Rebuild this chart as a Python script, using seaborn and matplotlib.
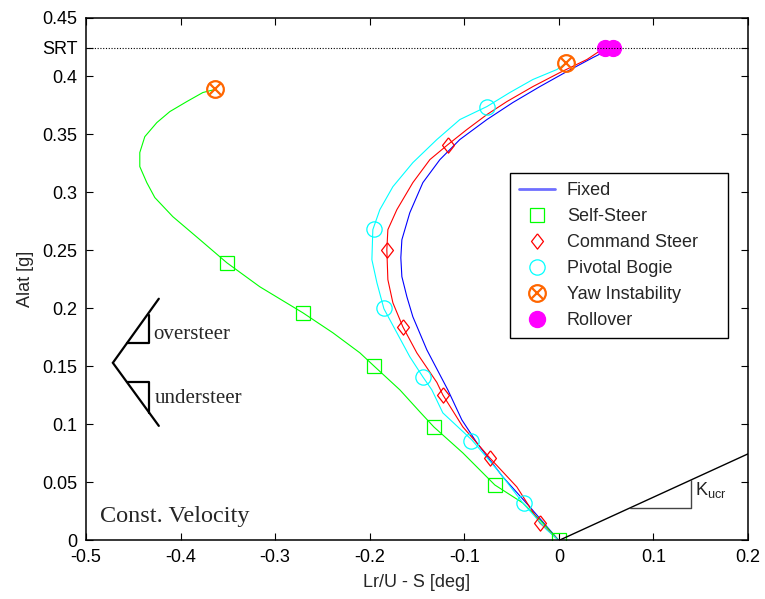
import numpy as np
import pandas as pd
import matplotlib
matplotlib.use("Agg")
import matplotlib.pyplot as plt
from matplotlib.lines import Line2D
from matplotlib.legend_handler import HandlerTuple
import seaborn as sns

# ---------------- data ----------------
fixed_x = [0.0, -0.0307, -0.0592, -0.0867, -0.1026, -0.1174, -0.1396, -0.1544, -0.1607,
           -0.1660, -0.1671, -0.1660, -0.1576, -0.1438, -0.1258, -0.1047, -0.0761, -0.0486,
           -0.0201, 0.0085, 0.0360, 0.0571]
fixed_y = [0.0, 0.0289, 0.0547, 0.0841, 0.1039, 0.1297, 0.1642, 0.1927, 0.2099,
           0.2272, 0.2435, 0.2590, 0.2823, 0.3082, 0.3280, 0.3453, 0.3625, 0.3772,
           0.3909, 0.4039, 0.4159, 0.4245]

self_x = [-0.3638, -0.3764, -0.3934, -0.4113, -0.4251, -0.4378, -0.4431, -0.4431, -0.4357,
          -0.4272, -0.4082, -0.3796, -0.3511, -0.3162, -0.2707, -0.2390, -0.2104, -0.1946,
          -0.1681, -0.1470, -0.1322, -0.1015, -0.0677, -0.0381, -0.0201, 0.0]
self_y = [0.3884, 0.3858, 0.3780, 0.3694, 0.3599, 0.3478, 0.3341, 0.3220, 0.3082,
          0.2953, 0.2789, 0.2591, 0.2392, 0.2185, 0.1961, 0.1789, 0.1616, 0.1496,
          0.1297, 0.1108, 0.0978, 0.0754, 0.0478, 0.0323, 0.0177, 0.0]
self_mx = [-0.351, -0.271, -0.195, -0.132, -0.068, 0.0]
self_my = [0.239, 0.196, 0.150, 0.098, 0.048, 0.0]

cmd_x = [0.0, -0.0201, -0.0444, -0.0730, -0.1015, -0.1227, -0.1290, -0.1502, -0.1650,
         -0.1755, -0.1808, -0.1819, -0.1808, -0.1713, -0.1544, -0.1364, -0.1174, -0.0973,
         -0.0761, -0.0550, -0.0275, 0.0011, 0.0296, 0.0486]
cmd_y = [0.0, 0.0151, 0.0461, 0.0711, 0.0978, 0.1254, 0.1361, 0.1616, 0.1841,
         0.2047, 0.2246, 0.2504, 0.2677, 0.2849, 0.3082, 0.3280, 0.3409, 0.3539,
         0.3668, 0.3780, 0.3909, 0.4030, 0.4142, 0.4245]
cmd_mx = [-0.020, -0.073, -0.123, -0.165, -0.182, -0.117]
cmd_my = [0.015, 0.071, 0.125, 0.184, 0.250, 0.341]

piv_x = [0.0, -0.0127, -0.0381, -0.0624, -0.0920, -0.1227, -0.1343, -0.1438, -0.1576,
         -0.1713, -0.1850, -0.1924, -0.1977, -0.1967, -0.1893, -0.1755, -0.1544, -0.1290,
         -0.1047, -0.0761, -0.0518, -0.0275, -0.0021, 0.0075]
piv_y = [0.0, 0.0091, 0.0323, 0.0582, 0.0866, 0.1099, 0.1297, 0.1409, 0.1582,
         0.1789, 0.1996, 0.2220, 0.2418, 0.2677, 0.2849, 0.3047, 0.3254, 0.3453,
         0.3625, 0.3737, 0.3858, 0.3970, 0.4056, 0.4108]
piv_mx = [-0.037, -0.093, -0.144, -0.185, -0.195, -0.076]
piv_my = [0.032, 0.086, 0.141, 0.200, 0.268, 0.373]

yaw_x = [-0.3638, 0.0075]
yaw_y = [0.3884, 0.4108]
roll_x = [0.0486, 0.0571]
roll_y = [0.4245, 0.4245]

srt_value = 0.4245
kucr_x = [0.0, 0.2]
kucr_y = [0.0, 0.0746]

x_ticks = [-0.5, -0.4, -0.3, -0.2, -0.1, 0.0, 0.1, 0.2]
x_ticklabels = ["-0.5", "-0.4", "-0.3", "-0.2", "-0.1", "0", "0.1", "0.2"]
y_ticks = [0.0, 0.05, 0.1, 0.15, 0.2, 0.25, 0.3, 0.35, 0.4, 0.45]
y_ticklabels = ["0", "0.05", "0.1", "0.15", "0.2", "0.25", "0.3", "0.35", "0.4", "0.45"]

labels = ["Fixed", "Self-Steer", "Command Steer", "Pivotal Bogie", "Yaw Instability", "Rollover"]

# ---------------- style ----------------
sns.set_theme(style="white")
plt.rcParams["font.family"] = ["Liberation Sans", "DejaVu Sans"]
plt.rcParams["mathtext.fontset"] = "custom"
plt.rcParams["mathtext.rm"] = "Liberation Sans"
plt.rcParams["mathtext.it"] = "Liberation Sans"

BLUE, GREEN, RED, CYAN = "#0000ff", "#00ff00", "#ff0000", "#00ffff"
ORANGE, MAGENTA = "#ff6600", "#ff00ff"
diamond = [(0, 1), (0.78, 0), (0, -1), (-0.78, 0), (0, 1)]

fig = plt.figure(figsize=(7.65, 5.99), dpi=100)
ax = fig.add_axes([0.1124, 0.0977, 0.8654, 0.8723])

LW = 0.8
def curve(x, y, color):
    sns.lineplot(x=x, y=y, sort=False, estimator=None, color=color, lw=LW, ax=ax,
                 legend=False)

def marks(x, y, color, marker, ms, mew=0.9, fill="none"):
    sns.lineplot(x=x, y=y, sort=False, estimator=None, color=color, linestyle="",
                 marker=marker, markersize=ms, markerfacecolor=fill,
                 markeredgecolor=color, markeredgewidth=mew, ax=ax, legend=False)

curve(fixed_x, fixed_y, BLUE)
curve(self_x, self_y, GREEN)
curve(cmd_x, cmd_y, RED)
curve(piv_x, piv_y, CYAN)
marks(self_mx, self_my, GREEN, "s", 9.5)
marks(cmd_mx, cmd_my, RED, diamond, 11)
marks(piv_mx, piv_my, CYAN, "o", 11)
marks(yaw_x, yaw_y, ORANGE, "o", 12, mew=1.6)
marks(yaw_x, yaw_y, ORANGE, "x", 8.5, mew=1.6)
marks(roll_x, roll_y, MAGENTA, "o", 11.5, fill=MAGENTA)

# SRT reference line
ax.axhline(srt_value, color="black", ls=(0, (1, 1.5)), lw=0.8)

# Kucr slope line and triangle
sns.lineplot(x=kucr_x, y=kucr_y, sort=False, estimator=None, color="black", lw=1.0,
             ax=ax, legend=False)
ax.plot([0.0751, 0.1396, 0.1396], [0.0280, 0.0280, 0.0521], color="#444444", lw=1.0)
ax.text(0.1438, 0.0435, r"K$_{\mathrm{ucr}}$", fontsize=13, va="center", ha="left",
        color="#222222")

# oversteer / understeer sketch
ax.plot([-0.4230, -0.4716, -0.4230], [0.2082, 0.1530, 0.0987], color="black", lw=1.6,
        solid_joinstyle="miter")
ax.plot([-0.4568, -0.4335, -0.4335], [0.1703, 0.1703, 0.1944], color="black", lw=1.6)
ax.plot([-0.4568, -0.4335, -0.4335], [0.1366, 0.1366, 0.1099], color="black", lw=1.6)
ax.text(-0.4290, 0.1775, "oversteer", family="Liberation Serif", fontsize=15,
        va="center", ha="left")
ax.text(-0.4270, 0.1225, "understeer", family="Liberation Serif", fontsize=15,
        va="center", ha="left")
ax.text(-0.4854, 0.0203, "Const. Velocity", family="Liberation Serif", fontsize=17.5,
        va="center", ha="left")

# axes
ax.set_xlim(-0.5, 0.2)
ax.set_ylim(0, 0.45)
ax.set_xticks(x_ticks)
ax.set_xticklabels(x_ticklabels)
ax.set_yticks(y_ticks + [srt_value])
ax.set_yticklabels(y_ticklabels + ["SRT"])
for t in ax.yaxis.get_major_ticks()[-1:]:
    t.tick1line.set_visible(False)
    t.tick2line.set_visible(False)
ax.tick_params(direction="in", length=5, width=0.8, labelsize=13, pad=6,
               top=True, right=True, bottom=True, left=True, colors="black")
for s in ax.spines.values():
    s.set_visible(True)
    s.set_color("black")
    s.set_linewidth(1.1)
ax.set_xlabel("Lr/U - S [deg]", fontsize=13, labelpad=6)
ax.set_ylabel("Alat [g]", fontsize=13, labelpad=6)

# legend
h_fixed = Line2D([], [], color="#6f6fff", lw=2)
h_self = Line2D([], [], ls="", marker="s", ms=9.5, mfc="none", mec=GREEN, mew=0.9)
h_cmd = Line2D([], [], ls="", marker=diamond, ms=11, mfc="none", mec=RED, mew=0.9)
h_piv = Line2D([], [], ls="", marker="o", ms=11, mfc="none", mec=CYAN, mew=0.9)
h_yaw1 = Line2D([], [], ls="", marker="o", ms=12, mfc="none", mec=ORANGE, mew=1.6)
h_yaw2 = Line2D([], [], ls="", marker="x", ms=8.5, mec=ORANGE, mew=1.6)
h_roll = Line2D([], [], ls="", marker="o", ms=11.5, mfc=MAGENTA, mec=MAGENTA)
leg = ax.legend([h_fixed, h_self, h_cmd, h_piv, (h_yaw1, h_yaw2), h_roll], labels,
                handler_map={tuple: HandlerTuple(ndivide=1, pad=0)},
                loc="upper left", bbox_to_anchor=(0.6405, 0.3876, 0.3295, 0.3157),
                mode="expand", borderaxespad=0,
                fontsize=13, frameon=True, fancybox=False, edgecolor="black",
                framealpha=1, labelspacing=0.5, handlelength=2.0, handletextpad=0.65,
                borderpad=0.5)
leg.get_frame().set_linewidth(1.0)

fig.savefig("out.png", dpi=100, facecolor="white")
